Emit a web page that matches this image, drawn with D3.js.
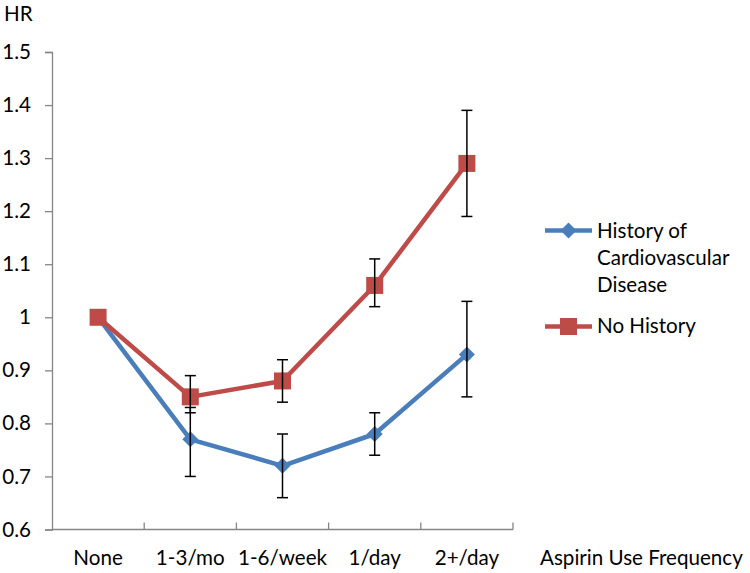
<!DOCTYPE html>
<html><head><meta charset="utf-8">
<script src="https://cdn.jsdelivr.net/npm/d3@7"></script>
<style>body{margin:0;background:#fff}svg{display:block}text{font-family:Lato,"Open Sans",sans-serif;fill:#000}</style>
</head><body><svg id="c" width="750" height="573"></svg>
<script>
const categories = ["None", "1-3/mo", "1-6/week", "1/day", "2+/day"];
const histValues = [1, 0.77, 0.72, 0.78, 0.93];
const histLow = [1, 0.70, 0.66, 0.74, 0.85];
const histHigh = [1, 0.83, 0.78, 0.82, 1.03];
const noHistValues = [1, 0.85, 0.88, 1.06, 1.29];
const noHistLow = [1, 0.82, 0.84, 1.02, 1.19];
const noHistHigh = [1, 0.89, 0.92, 1.11, 1.39];
const yTicks = [0.6, 0.7, 0.8, 0.9, 1, 1.1, 1.2, 1.3, 1.4, 1.5];
const legendLines = ["History of", "Cardiovascular", "Disease"];
const seriesNames = ["History of Cardiovascular Disease", "No History"];

const svg = d3.select("#c");
const fs = 20.6;
const x = d3.scaleBand().domain(categories).range([52, 513]);
const y = d3.scaleLinear().domain([0.6, 1.5]).range([529.5, 52]);
const axisColor = "#868686";

// y axis
const ya = svg.append("g").attr("transform", "translate(52,0)")
  .call(d3.axisLeft(y).tickValues(yTicks).tickSize(7).tickPadding(14).tickFormat(d => d3.format("")(d)));
ya.select(".domain").attr("stroke", axisColor).attr("stroke-width", 1.3);
ya.selectAll(".tick line").attr("stroke", axisColor).attr("stroke-width", 1.3);
ya.selectAll(".tick text").style("font-size", fs + "px").style("font-family", "Lato,sans-serif").attr("fill", "#000");

// x axis
const xa = svg.append("g").attr("transform", "translate(0,529.5)");
xa.append("line").attr("x1", 52).attr("x2", 513).attr("stroke", axisColor).attr("stroke-width", 1.3);
const bounds = categories.map((c, i) => x(c) + x.bandwidth());
xa.selectAll(".xt").data(bounds).join("line")
  .attr("x1", d => d).attr("x2", d => d).attr("y1", 0).attr("y2", -7)
  .attr("stroke", axisColor).attr("stroke-width", 1.3);
xa.selectAll(".xl").data(categories).join("text")
  .attr("x", d => x(d) + x.bandwidth() / 2).attr("y", 35.5)
  .attr("text-anchor", "middle").style("font-size", fs + "px").text(d => d);

svg.append("text").attr("x", 540).attr("y", 564.5).style("font-size", fs + "px").text("Aspirin Use Frequency");
svg.append("text").attr("x", 4).attr("y", 21).style("font-size", fs + "px").text("HR");

const cx = d => x(d) + x.bandwidth() / 2;
const line = d3.line().x(d => cx(d.c)).y(d => y(d.v));

function series(vals, lo, hi, color, marker) {
  const data = categories.map((c, i) => ({c, v: vals[i], lo: lo[i], hi: hi[i]}));
  const g = svg.append("g");
  g.append("path").datum(data).attr("d", line).attr("fill", "none")
    .attr("stroke", color).attr("stroke-width", 4.5).attr("stroke-linejoin", "round");
  g.selectAll(".m").data(data).join("path")
    .attr("transform", d => `translate(${cx(d.c)},${y(d.v)})`)
    .attr("d", marker).attr("fill", color);
  return data;
}
function errorBars(data) {
  const g = svg.append("g");
  const eb = data.filter(d => d.hi !== d.lo);
  g.selectAll(".v").data(eb).join("line")
    .attr("x1", d => cx(d.c)).attr("x2", d => cx(d.c)).attr("y1", d => y(d.lo)).attr("y2", d => y(d.hi))
    .attr("stroke", "#000").attr("stroke-width", 1.5);
  ["lo", "hi"].forEach(k => {
    g.selectAll(".c" + k).data(eb).join("line")
      .attr("x1", d => cx(d.c) - 5.5).attr("x2", d => cx(d.c) + 5.5)
      .attr("y1", d => y(d[k])).attr("y2", d => y(d[k]))
      .attr("stroke", "#000").attr("stroke-width", 1.5);
  });
}
const diamond = "M0,-8L8,0L0,8L-8,0Z";
const square = "M-8.5,-8.5H8.5V8.5H-8.5Z";
const dHist = series(histValues, histLow, histHigh, "#4a7ebb", diamond);
const dNo = series(noHistValues, noHistLow, noHistHigh, "#be4b48", square);
errorBars(dHist);
errorBars(dNo);

// legend
const lg = svg.append("g");
lg.append("line").attr("x1", 545).attr("x2", 592).attr("y1", 230.5).attr("y2", 230.5).attr("stroke", "#4a7ebb").attr("stroke-width", 4.5);
lg.append("path").attr("transform", "translate(568.5,230.5)").attr("d", diamond).attr("fill", "#4a7ebb");
legendLines.forEach((t, i) =>
  lg.append("text").attr("x", 597).attr("y", 238 + i * 27).style("font-size", fs + "px").text(t));
lg.append("line").attr("x1", 545).attr("x2", 592).attr("y1", 326.5).attr("y2", 326.5).attr("stroke", "#be4b48").attr("stroke-width", 4.5);
lg.append("path").attr("transform", "translate(568.5,326.5)").attr("d", square).attr("fill", "#be4b48");
lg.append("text").attr("x", 597).attr("y", 333).style("font-size", fs + "px").text(seriesNames[1]);
</script></body></html>
